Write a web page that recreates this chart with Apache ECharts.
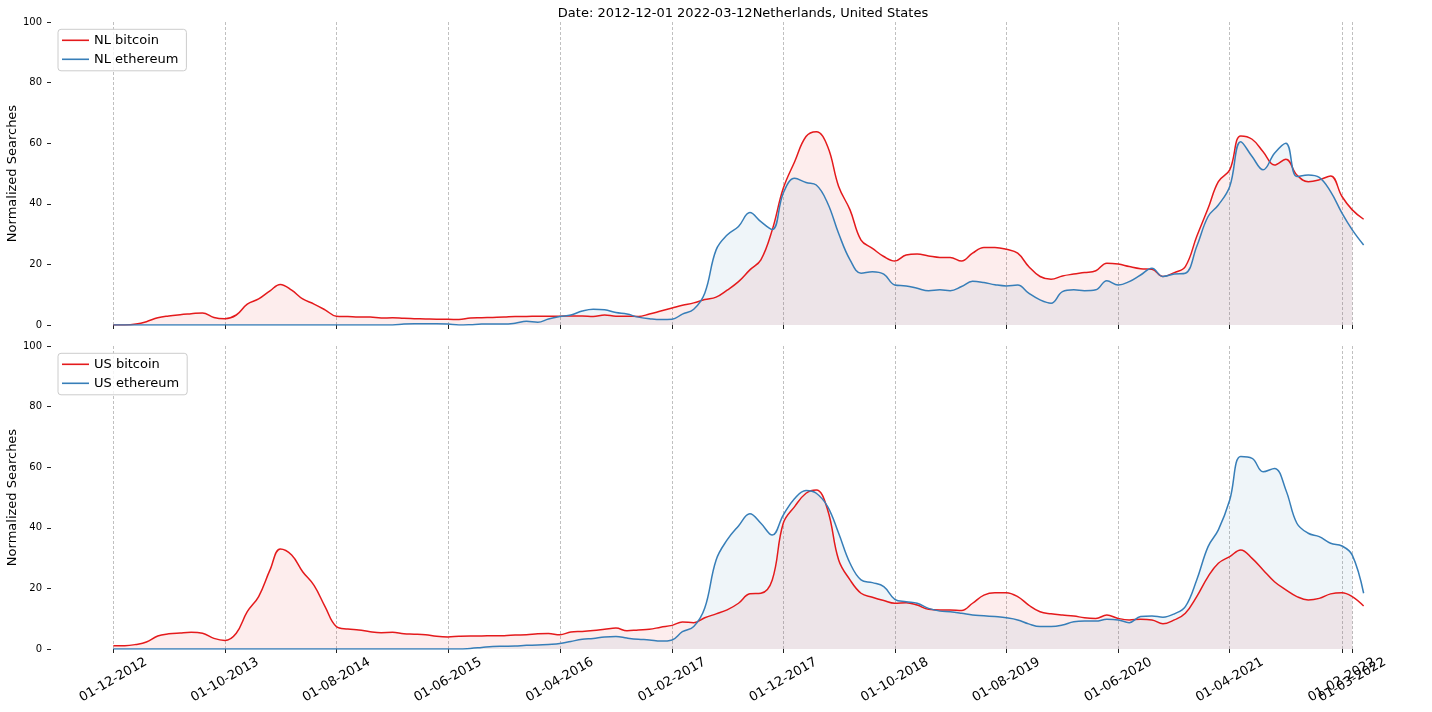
<!DOCTYPE html>
<html>
<head>
<meta charset="utf-8">
<script src="https://cdn.jsdelivr.net/npm/echarts@6/dist/echarts.min.js"></script>
<style>
html,body{margin:0;padding:0;background:#fff;}
#chart{width:1432px;height:712px;}
</style>
</head>
<body>
<div id="chart"></div>
<script>
// ---- data (monthly, first month 2012-12, last 2022-04) ----
const START_YEAR = 2012, START_MONTH = 12, N_MONTHS = 113;
const FILL_END_INDEX = 111; // fills end at 2022-03-01

const TITLE = 'Date: 2012-12-01 2022-03-12Netherlands, United States';
const Y_LABEL = 'Normalized Searches';
const TICK_DATES = ['2012-12-01','2013-10-01','2014-08-01','2015-06-01','2016-04-01','2017-02-01',
  '2017-12-01','2018-10-01','2019-08-01','2020-06-01','2021-04-01','2022-02-01','2022-03-01'];

const NL_BITCOIN = [
  0, 0, 0.3, 1.1, 2.4, 3.0, 3.4, 3.7, 4.0, 2.5,
  2.1, 3.3, 6.9, 8.6, 11.3, 13.4, 11.5, 8.6, 6.9, 5.0,
  2.9, 2.8, 2.6, 2.6, 2.3, 2.4, 2.2, 2.1, 2.0, 1.9,
  1.9, 1.8, 2.3, 2.4, 2.5, 2.6, 2.8, 2.8, 2.9, 2.9,
  2.9, 3.0, 3.0, 2.8, 3.3, 2.9, 2.9, 2.8, 3.6, 4.6,
  5.6, 6.5, 7.3, 8.4, 9.2, 11.5, 14.3, 18.2, 21.5, 31.4,
  45.1, 53.9, 62.2, 63.8, 58.9, 45.7, 38.0, 28.0, 25.3, 22.6,
  21.1, 23.1, 23.4, 22.8, 22.3, 22.3, 21.1, 23.7, 25.6, 25.6,
  25.0, 23.7, 19.3, 16.0, 15.1, 16.2, 16.8, 17.3, 17.9, 20.4,
  20.1, 19.3, 18.6, 18.4, 16.0, 17.3, 19.3, 29.2, 38.5, 47.3,
  51.2, 62.4, 61.3, 57.2, 52.8, 54.7, 49.5, 47.3, 47.9, 49.2,
  42.4, 38.0, 34.9
];
const NL_ETHEREUM = [
  0, 0, 0, 0, 0, 0, 0, 0, 0, 0,
  0, 0, 0, 0, 0, 0, 0, 0, 0, 0,
  0, 0, 0, 0, 0, 0, 0.3, 0.4, 0.4, 0.4,
  0.3, 0.0, 0.1, 0.3, 0.3, 0.3, 0.6, 1.2, 0.9, 2.0,
  2.8, 3.3, 4.6, 5.2, 5.0, 4.1, 3.6, 2.6, 2.1, 1.8,
  1.9, 3.6, 5.2, 10.5, 24.8, 29.7, 32.5, 37.1, 34.1, 31.5,
  43.5, 48.4, 47.0, 46.2, 40.2, 30.2, 21.5, 17.1, 17.6, 16.8,
  13.2, 12.9, 12.1, 11.3, 11.6, 11.3, 12.7, 14.4, 14.0, 13.3,
  12.9, 13.2, 10.5, 8.3, 7.2, 11.0, 11.6, 11.3, 11.6, 14.6,
  13.2, 14.3, 16.5, 18.7, 16.0, 16.8, 17.1, 25.9, 35.8, 39.6,
  45.7, 60.5, 55.6, 51.2, 56.7, 60.0, 49.0, 49.5, 48.7, 44.0,
  36.9, 31.4, 26.4
];
const US_BITCOIN = [
  1.1, 1.1, 1.5, 2.3, 4.3, 5.0, 5.3, 5.5, 5.2, 3.5,
  2.8, 5.2, 12.3, 17.3, 26.1, 33.0, 31.0, 25.5, 21.0, 14.0,
  7.4, 6.6, 6.3, 5.7, 5.4, 5.5, 5.0, 4.9, 4.7, 4.2,
  4.0, 4.2, 4.3, 4.3, 4.4, 4.4, 4.6, 4.7, 5.0, 5.1,
  4.7, 5.6, 5.8, 6.1, 6.5, 6.9, 6.0, 6.3, 6.5, 7.2,
  7.8, 8.9, 8.7, 10.3, 11.6, 12.9, 15.1, 18.2, 18.4, 22.8,
  41.5, 47.0, 51.4, 52.5, 45.9, 29.4, 22.8, 18.4, 17.1, 16.0,
  15.1, 15.3, 14.5, 13.1, 12.9, 12.9, 12.7, 15.1, 17.8, 18.6,
  18.6, 17.3, 14.5, 12.3, 11.6, 11.2, 10.9, 10.3, 10.1, 11.2,
  10.1, 9.6, 9.8, 9.6, 8.3, 9.6, 11.8, 17.3, 23.9, 28.3,
  30.5, 32.7, 29.9, 26.1, 22.2, 19.5, 17.3, 16.2, 16.7, 18.2,
  18.6, 17.3, 14.2
];
const US_ETHEREUM = [
  0, 0, 0, 0, 0, 0, 0, 0, 0, 0,
  0, 0, 0, 0, 0, 0, 0, 0, 0, 0,
  0, 0, 0, 0, 0, 0, 0, 0, 0, 0,
  0, 0, 0.2, 0.5, 0.8, 0.9, 1.0, 1.2, 1.3, 1.5,
  1.8, 2.5, 3.2, 3.5, 4.0, 4.1, 3.6, 3.2, 3.0, 2.6,
  3.0, 5.7, 7.4, 13.5, 29.4, 36.0, 40.6, 44.6, 41.5, 37.6,
  44.2, 49.7, 52.3, 51.4, 47.0, 38.2, 28.3, 22.8, 21.9, 20.6,
  16.4, 15.6, 15.1, 13.4, 12.5, 12.3, 11.8, 11.2, 11.0, 10.7,
  10.3, 9.6, 8.3, 7.4, 7.4, 7.9, 9.0, 9.2, 9.2, 9.8,
  9.6, 8.7, 10.7, 10.9, 10.5, 11.6, 14.0, 22.8, 33.8, 39.3,
  49.2, 63.5, 62.9, 58.5, 59.6, 52.5, 41.5, 38.2, 37.1, 34.9,
  34.0, 31.0, 18.4
];

// ---- build ----
function ts(s){ const p = s.split('-').map(Number); return Date.UTC(p[0], p[1]-1, p[2]); }
const DATES = [];
for (let i = 0; i < N_MONTHS; i++) {
  const m0 = START_MONTH - 1 + i;
  DATES.push(Date.UTC(START_YEAR + Math.floor(m0 / 12), m0 % 12, 1));
}
const TICKS = TICK_DATES.map(ts);
// the two last labels overlap in the reference: draw the second-to-last on its own axis
const LABELS_MAIN = TICKS.filter((t, i) => i !== TICKS.length - 2);
const LABELS_EXTRA = [TICKS[TICKS.length - 2]];
function pad(n){ return (n < 10 ? '0' : '') + n; }
function fmt(v){ const d = new Date(v); return pad(d.getUTCDate()) + '-' + pad(d.getUTCMonth()+1) + '-' + d.getUTCFullYear(); }
function pairs(arr, n){ return arr.slice(0, n).map((v, i) => [DATES[i], v]); }

const RED = '#e41a1c', BLUE = '#377eb8';
const FONT = 'DejaVu Sans';
const panels = [
  {prefix: 'NL', btc: NL_BITCOIN, eth: NL_ETHEREUM},
  {prefix: 'US', btc: US_BITCOIN, eth: US_ETHEREUM}
];

const series = [];
panels.forEach((p, k) => {
  series.push({type:'line', name:p.prefix+' bitcoin fill', xAxisIndex:k, yAxisIndex:k,
    data:pairs(p.btc, FILL_END_INDEX+1), smooth:0.4, symbol:'none', silent:true, z:1,
    lineStyle:{width:0, opacity:0}, areaStyle:{color:'rgba(228,26,28,0.11)'}});
  series.push({type:'line', name:p.prefix+' ethereum fill', xAxisIndex:k, yAxisIndex:k,
    data:pairs(p.eth, FILL_END_INDEX+1), smooth:0.4, symbol:'none', silent:true, z:1,
    lineStyle:{width:0, opacity:0}, areaStyle:{color:'rgba(55,126,184,0.11)'}});
  series.push({type:'line', name:p.prefix+' bitcoin', xAxisIndex:k, yAxisIndex:k,
    data:pairs(p.btc, N_MONTHS), smooth:0.4, symbol:'none', z:3, color:RED,
    itemStyle:{color:RED}, lineStyle:{width:1.5, color:RED}});
  series.push({type:'line', name:p.prefix+' ethereum', xAxisIndex:k, yAxisIndex:k,
    data:pairs(p.eth, N_MONTHS), smooth:0.4, symbol:'none', z:4, color:BLUE,
    itemStyle:{color:BLUE}, lineStyle:{width:1.5, color:BLUE}});
});

const X_MIN = ts('2012-06-14'), X_MAX = ts('2022-09-18');
const labelStyle = {rotate: 30, align: 'center', verticalAlign: 'middle', margin: 31, fontSize: 13,
  color: '#000', fontFamily: FONT, formatter: fmt, showMinLabel: true, showMaxLabel: true, hideOverlap: false};

const chart = echarts.init(document.getElementById('chart'), null, {renderer:'canvas'});
const gridTops = [22, 346];
const option = {
  animation: false,
  backgroundColor: '#fff',
  textStyle: {fontFamily: FONT},
  title: {text: TITLE, left: 738, textAlign: 'center', top: 2,
    textStyle: {fontSize: 13, fontWeight: 'normal', color: '#000', fontFamily: FONT}},
  legend: panels.map((p, k) => ({
    data: [p.prefix+' bitcoin', p.prefix+' ethereum'],
    orient: 'vertical', left: 58, top: gridTops[k] + 7.3,
    icon: 'rect', itemWidth: 27, itemHeight: 1.6, itemGap: 6, itemTextGap: 10,
    padding: [4.5, 8, 5, 4],
    backgroundColor: 'rgba(255,255,255,0.8)', borderColor: '#cccccc', borderWidth: 1, borderRadius: 3,
    textStyle: {fontSize: 13, color: '#000', fontFamily: FONT},
    selectedMode: false
  })),
  grid: gridTops.map(t => ({left: 51, right: 6, top: t, height: 303, containLabel: false, outerBoundsMode: 'none'})),
  xAxis: [0, 1].map(k => ({
    type: 'value', gridIndex: k, min: X_MIN, max: X_MAX,
    axisLine: {show: false},
    axisTick: {show: true, customValues: TICKS, length: 4, lineStyle: {color: '#222', width: 1}},
    axisLabel: Object.assign({show: k === 1, customValues: LABELS_MAIN}, labelStyle),
    splitLine: {show: true, lineStyle: {type: [3, 2], color: '#b0b0b0', width: 0.8}}
  })).concat([{
    type: 'value', gridIndex: 1, min: X_MIN, max: X_MAX, position: 'bottom',
    axisLine: {show: false}, axisTick: {show: false}, splitLine: {show: false},
    axisLabel: Object.assign({show: true, customValues: LABELS_EXTRA}, labelStyle)
  }]),
  yAxis: [0, 1].map(k => ({
    type: 'value', gridIndex: k, min: 0, max: 100, interval: 20,
    axisLine: {show: false},
    axisTick: {show: true, length: 4, lineStyle: {color: '#222', width: 1}},
    axisLabel: {fontSize: 10, color: '#000', margin: 9, fontFamily: FONT},
    splitLine: {show: false},
    name: Y_LABEL, nameLocation: 'middle', nameGap: 32, nameMoveOverlap: false,
    nameTextStyle: {fontSize: 13, color: '#000', fontFamily: FONT}
  })),
  series: series
};
chart.setOption(option);
</script>
</body>
</html>
